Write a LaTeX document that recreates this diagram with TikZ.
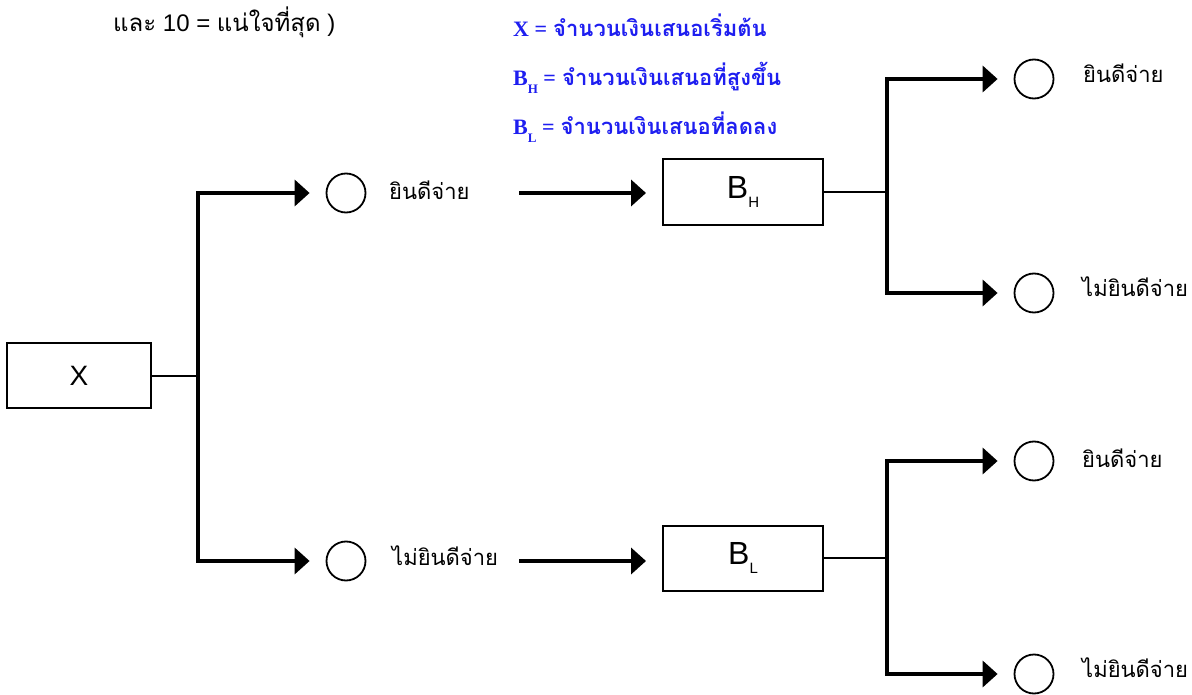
\documentclass[tikz,border=0pt]{standalone}
\usepackage{fontspec}
\setmainfont{Liberation Sans}
\newfontfamily\thai[Script=Thai]{Loma}
\newfontfamily\serifb{Liberation Serif}
\usetikzlibrary{arrows.meta}
\definecolor{legblue}{RGB}{30,30,240}
\begin{document}
\begin{tikzpicture}[x=1pt,y=-1pt,
  thickarr/.style={line width=4.5pt, -{Triangle[length=15pt,width=26pt]}, shorten >=16pt},
  thinln/.style={line width=2pt},
  boxnode/.style={draw, line width=2pt, minimum width=160pt, minimum height=65pt, inner sep=0pt},
  circ/.style={draw, circle, line width=1.8pt, minimum size=39pt, inner sep=0pt},
  lab/.style={anchor=base west, inner sep=0pt, font=\thai\fontsize{22}{26}\selectfont},
  leg/.style={anchor=base west, inner sep=0pt, text=legblue, font=\bfseries\fontsize{22}{24}\selectfont}]
\useasboundingbox (0,0) rectangle (1192,695);

% top text
\node[anchor=base west, inner sep=0pt, font=\fontsize{24}{28}\selectfont] (top) at (113,32) {{\thai และ} 10 = {\thai แน่ใจที่สุด} )};

% legend
\node[leg] (leg1) at (513,37) {{\serifb X =} {\thai จำนวนเงินเสนอเริ่มต้น}};
\node[leg] (leg2) at (513,86) {{\serifb B\raisebox{-8pt}{\fontsize{13}{13}\selectfont H} =} {\thai จำนวนเงินเสนอที่สูงขึ้น}};
\node[leg] (leg3) at (513,135) {{\serifb B\raisebox{-8pt}{\fontsize{13}{13}\selectfont L} =} {\thai จำนวนเงินเสนอที่ลดลง}};

% boxes
\node[boxnode, minimum width=144pt] (X) at (79,375.5) {\fontsize{28}{30}\selectfont X};
\node[boxnode, minimum height=66pt] (BH) at (743,192) {\fontsize{32}{34}\selectfont B\raisebox{-9pt}{\fontsize{15}{15}\selectfont H}};
\node[boxnode] (BL) at (743,558) {\fontsize{32}{34}\selectfont B\raisebox{-9pt}{\fontsize{15}{15}\selectfont L}};

% circles
\node[circ] (c1) at (346,193) {};
\node[circ] (c2) at (346,561) {};
\node[circ] (c3) at (1034,79) {};
\node[circ] (c4) at (1034,293) {};
\node[circ] (c5) at (1034,461) {};
\node[circ] (c6) at (1034,674) {};

% labels
\node[lab] (l1) at (389,200) {ยินดีจ่าย};
\node[lab] (l2) at (392,565) {ไม่ยินดีจ่าย};
\node[lab] (l3) at (1083,83) {ยินดีจ่าย};
\node[lab] (l4) at (1082,297) {ไม่ยินดีจ่าย};
\node[lab] (l5) at (1082,467) {ยินดีจ่าย};
\node[lab] (l6) at (1082,677) {ไม่ยินดีจ่าย};

% junctions
\coordinate (jA) at (198,375.5);
\coordinate (m1) at (519,193);
\coordinate (m2) at (519,561);
\coordinate (jB) at (887,192);
\coordinate (jC) at (887,558);

% connectors
\draw[thinln] (X.east) -- (jA);
\draw[thickarr] (jA) |- (c1.west);
\draw[thickarr] (jA) |- (c2.west);
\draw[thickarr] (m1) -- (BH.west |- m1);
\draw[thickarr] (m2) -- (BL.west |- m2);
\draw[thinln] (BH.east) -- (jB);
\draw[thinln] (BL.east) -- (jC);
\draw[thickarr] (jB) |- (c3.west);
\draw[thickarr] (jB) |- (c4.west);
\draw[thickarr] (jC) |- (c5.west);
\draw[thickarr] (jC) |- (c6.west);
\end{tikzpicture}
\end{document}
